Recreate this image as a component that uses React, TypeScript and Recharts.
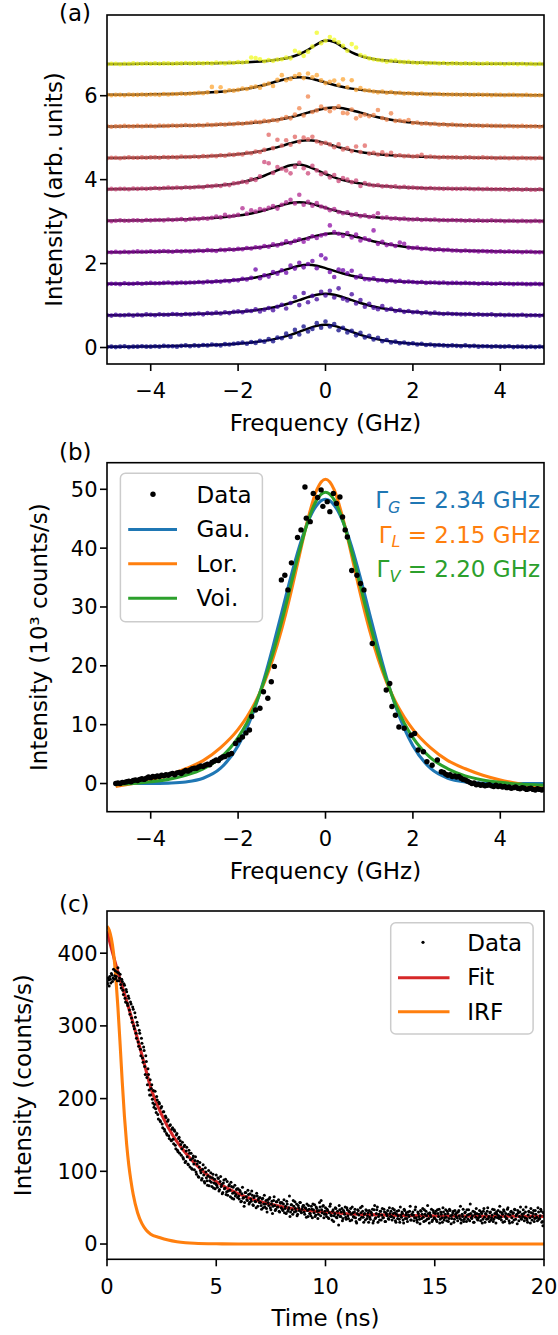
import React from "react";
import { ComposedChart, Scatter, Line, XAxis, YAxis } from "recharts";

const FONT = '"DejaVu Sans", "Liberation Sans", sans-serif';
const W = 558;
const TICK_FS = 21;
const LABEL_FS = 23;

// ---------- panel (a): stacked spectra ----------
const aStart = -5;
const aStep = 0.1;
const traceOffsets = [0, 0.75, 1.5, 2.25, 3, 3.75, 4.5, 5.25, 6, 6.75];
const traceColors = ["#0d0887", "#41049d", "#6a00a8", "#8f0da4", "#b12a90", "#cc4778", "#e16462", "#f2844b", "#fca636", "#f0f921"];

const trace0 = [0.01,0.02,0.01,0.02,0.03,0.01,0.02,0.02,0.03,0.02,0.02,0.03,0.02,0.04,0.03,0.03,0.02,0.04,0.05,0.03,
  0.05,0.04,0.06,0.05,0.07,0.06,0.05,0.08,0.07,0.09, 0.10,0.12,0.09,0.13,0.11,0.16,0.14,0.20,0.15,0.24,
  0.22,0.33,0.25,0.42,0.31,0.50,0.38,0.44,0.58,0.47, 0.62,0.50,0.56,0.41,0.47,0.36,0.40,0.29,0.35,0.24,
  0.28,0.19,0.23,0.15,0.18,0.12,0.14,0.10,0.12,0.09, 0.10,0.07,0.09,0.06,0.07,0.05,0.06,0.05,0.04,0.05,
  0.04,0.03,0.05,0.03,0.04,0.02,0.03,0.03,0.02,0.03,0.02,0.02,0.03,0.01,0.02,0.02,0.01,0.02,0.01,0.02,0.01];
const trace1 = [0.02,0.01,0.03,0.02,0.02,0.03,0.01,0.03,0.02,0.04,0.03,0.02,0.04,0.03,0.03,0.05,0.04,0.03,0.05,0.04,
  0.05,0.06,0.04,0.07,0.06,0.08,0.06,0.09,0.07,0.10, 0.11,0.09,0.13,0.12,0.16,0.11,0.15,0.19,0.14,0.22,
  0.27,0.18,0.31,0.45,0.26,0.55,0.33,0.48,0.40,0.58, 0.49,0.60,0.44,0.66,0.41,0.37,0.52,0.30,0.38,0.22,
  0.29,0.20,0.16,0.24,0.15,0.17,0.12,0.14,0.10,0.12, 0.09,0.10,0.07,0.09,0.06,0.08,0.06,0.05,0.06,0.05,
  0.05,0.04,0.04,0.05,0.03,0.04,0.03,0.03,0.04,0.02,0.03,0.02,0.03,0.02,0.02,0.03,0.01,0.02,0.02,0.01,0.02];
const trace2 = [0.01,0.02,0.02,0.01,0.03,0.02,0.02,0.03,0.02,0.03,0.04,0.03,0.03,0.04,0.05,0.03,0.04,0.05,0.04,0.05,
  0.05,0.06,0.05,0.07,0.06,0.08,0.07,0.09,0.08,0.11, 0.10,0.14,0.12,0.16,0.36,0.15,0.22,0.19,0.30,0.26,
  0.34,0.28,0.45,0.38,0.52,0.41,0.49,0.56,0.39,0.70, 0.62,0.30,0.18,0.36,0.34,0.27,0.33,0.17,0.21,0.13,
  0.12,0.15,0.10,0.11,0.08,0.10,0.07,0.09,0.06,0.07, 0.06,0.05,0.06,0.04,0.05,0.05,0.04,0.05,0.03,0.04,
  0.04,0.03,0.04,0.03,0.03,0.02,0.03,0.03,0.02,0.02,0.03,0.02,0.02,0.01,0.02,0.02,0.01,0.01,0.02,0.01,0.01];
const trace3 = [0.02,0.02,0.03,0.02,0.03,0.02,0.03,0.04,0.03,0.03,0.04,0.03,0.04,0.05,0.04,0.03,0.05,0.04,0.05,0.04,
  0.05,0.06,0.05,0.07,0.06,0.05,0.08,0.07,0.09,0.08, 0.10,0.09,0.12,0.11,0.14,0.13,0.17,0.15,0.21,0.18,
  0.22,0.28,0.24,0.29,0.33,0.27,0.34,0.40,0.36,0.42, 0.45,0.66,0.50,0.46,0.41,0.48,0.37,0.44,0.30,0.35,
  0.31,0.54,0.22,0.27,0.19,0.21,0.17,0.25,0.22,0.13, 0.12,0.13,0.10,0.11,0.09,0.08,0.09,0.07,0.08,0.06,
  0.06,0.05,0.06,0.05,0.05,0.04,0.05,0.04,0.04,0.03,0.04,0.03,0.04,0.03,0.03,0.02,0.03,0.03,0.02,0.02,0.02];
const trace4 = [0.02,0.01,0.02,0.03,0.02,0.02,0.03,0.03,0.02,0.04,0.03,0.04,0.04,0.03,0.05,0.04,0.05,0.06,0.04,0.06,
  0.07,0.06,0.08,0.07,0.09,0.12,0.10,0.16,0.12,0.14, 0.16,0.32,0.19,0.27,0.24,0.30,0.28,0.33,0.37,0.31,
  0.40,0.46,0.52,0.43,0.64,0.40,0.47,0.38,0.44,0.36, 0.33,0.27,0.30,0.23,0.20,0.22,0.16,0.18,0.13,0.15,
  0.11,0.13,0.20,0.09,0.10,0.07,0.08,0.06,0.07,0.05, 0.05,0.06,0.04,0.05,0.04,0.05,0.03,0.04,0.03,0.04,
  0.03,0.03,0.02,0.03,0.02,0.03,0.02,0.02,0.03,0.02,0.02,0.01,0.02,0.02,0.01,0.02,0.01,0.01,0.02,0.01,0.01];
const trace5 = [0.02,0.03,0.02,0.03,0.03,0.02,0.04,0.03,0.04,0.03,0.04,0.05,0.04,0.05,0.06,0.05,0.06,0.05,0.07,0.06,
  0.07,0.08,0.07,0.10,0.09,0.11,0.10,0.13,0.12,0.16, 0.17,0.20,0.19,0.26,0.24,0.33,0.67,0.64,0.41,0.55,
  0.51,0.47,0.40,0.56,0.65,0.52,0.40,0.58,0.47,0.38, 0.42,0.30,0.36,0.22,0.29,0.25,0.19,0.23,0.10,0.17,
  0.13,0.11,0.12,0.09,0.10,0.08,0.09,0.07,0.08,0.06, 0.06,0.05,0.05,0.04,0.05,0.04,0.04,0.03,0.04,0.03,
  0.03,0.03,0.04,0.03,0.02,0.03,0.02,0.03,0.02,0.02,0.02,0.02,0.01,0.02,0.02,0.01,0.02,0.01,0.01,0.02,0.01];
const trace6 = [0.01,0.02,0.02,0.01,0.02,0.03,0.02,0.02,0.03,0.02,0.03,0.03,0.02,0.04,0.03,0.04,0.03,0.05,0.04,0.04,
  0.05,0.04,0.06,0.05,0.07,0.06,0.08,0.07,0.10,0.09, 0.11,0.10,0.14,0.13,0.17,0.16,0.21,0.57,0.25,0.45,
  0.31,0.44,0.33,0.52,0.40,0.50,0.46,0.52,0.41,0.36, 0.38,0.34,0.27,0.34,0.22,0.25,0.18,0.29,0.16,0.31,
  0.12,0.14,0.10,0.15,0.09,0.14,0.07,0.08,0.06,0.07, 0.05,0.06,0.09,0.04,0.05,0.04,0.03,0.04,0.03,0.03,
  0.03,0.02,0.03,0.03,0.02,0.02,0.03,0.02,0.02,0.01,0.02,0.02,0.01,0.02,0.01,0.02,0.01,0.01,0.01,0.02,0.01];
const trace7 = [0.02,0.01,0.02,0.02,0.03,0.02,0.02,0.03,0.02,0.03,0.03,0.02,0.04,0.03,0.03,0.04,0.03,0.04,0.05,0.04,
  0.04,0.05,0.04,0.06,0.05,0.06,0.07,0.06,0.08,0.07, 0.09,0.08,0.10,0.11,0.13,0.12,0.15,0.14,0.17,0.16,
  0.20,0.24,0.21,0.30,0.45,0.28,0.73,0.36,0.40,0.49, 0.44,0.38,0.45,0.50,0.34,0.33,0.42,0.21,0.27,0.30,
  0.26,0.29,0.41,0.22,0.18,0.33,0.15,0.16,0.14,0.17, 0.10,0.11,0.08,0.09,0.07,0.08,0.06,0.07,0.05,0.06,
  0.05,0.05,0.04,0.05,0.04,0.04,0.03,0.04,0.03,0.03,0.03,0.02,0.03,0.02,0.02,0.03,0.02,0.02,0.02,0.01,0.02];
const trace8 = [0.02,0.01,0.02,0.02,0.01,0.03,0.02,0.02,0.03,0.02,0.03,0.03,0.02,0.04,0.03,0.04,0.04,0.05,0.04,0.05,
  0.06,0.07,0.06,0.08,0.21,0.09,0.20,0.10,0.13,0.12, 0.14,0.17,0.16,0.20,0.22,0.19,0.26,0.29,0.23,0.38,
  0.49,0.37,0.40,0.47,0.51,0.42,0.53,0.44,0.49,0.37, 0.30,0.33,0.36,0.26,0.39,0.20,0.37,0.14,0.18,0.13,
  0.12,0.10,0.08,0.10,0.07,0.09,0.06,0.07,0.05,0.06, 0.05,0.04,0.05,0.04,0.03,0.04,0.04,0.03,0.03,0.03,
  0.03,0.02,0.03,0.02,0.02,0.03,0.02,0.02,0.01,0.02,0.02,0.01,0.02,0.02,0.01,0.01,0.02,0.01,0.01,0.01,0.01];
const trace9 = [0.00,0.01,0.01,0.00,0.01,0.01,0.02,0.01,0.01,0.02,0.01,0.02,0.01,0.02,0.02,0.01,0.02,0.02,0.03,0.02,
  0.02,0.03,0.02,0.03,0.02,0.04,0.03,0.02,0.04,0.03, 0.05,0.04,0.06,0.16,0.15,0.12,0.07,0.10,0.08,0.11,
  0.12,0.16,0.14,0.32,0.28,0.20,0.30,0.42,0.75,0.50, 0.56,0.65,0.58,0.52,0.44,0.32,0.48,0.40,0.22,0.18,
  0.14,0.12,0.10,0.09,0.06,0.08,0.09,0.06,0.05,0.06, 0.04,0.03,0.04,0.02,0.03,0.03,0.02,0.03,0.01,0.02,
  0.02,0.01,0.02,0.01,0.02,0.01,0.01,0.02,0.01,0.01,0.01,0.00,0.01,0.01,0.00,0.01,0.00,0.01,0.00,0.01,0.00];

const fitGridA = [-5,-4.5,-4,-3.5,-3,-2.8,-2.6,-2.4,-2.2,-2,-1.8,-1.6,-1.4,-1.2,-1,-0.8,-0.6,-0.4,-0.2,0,
  0.2,0.4,0.6,0.8,1,1.2,1.4,1.6,1.8,2,2.2,2.4,2.6,2.8,3,3.5,4,4.5,5];
const fit0 = [0.017,0.021,0.026,0.034,0.045,0.051,0.058,0.067,0.077,0.091,0.108,0.130,0.158,0.194,0.242,0.302,0.374,0.451,0.515,0.54,
  0.515,0.451,0.374,0.302,0.242,0.194,0.158,0.130,0.108,0.091,0.077,0.067,0.058,0.051,0.045,0.034,0.026,0.021,0.017];
const fit1 = [0.018,0.023,0.028,0.036,0.048,0.055,0.062,0.072,0.083,0.098,0.115,0.138,0.167,0.204,0.251,0.310,0.379,0.450,0.508,0.53,
  0.508,0.450,0.379,0.310,0.251,0.204,0.167,0.138,0.115,0.098,0.083,0.072,0.062,0.055,0.048,0.036,0.028,0.023,0.018];
const fit2 = [0.017,0.022,0.028,0.037,0.050,0.058,0.067,0.079,0.094,0.113,0.137,0.169,0.210,0.263,0.325,0.392,0.448,0.47,0.448,0.392,
  0.325,0.263,0.210,0.169,0.137,0.113,0.094,0.079,0.067,0.058,0.050,0.044,0.039,0.035,0.031,0.024,0.019,0.015,0.013];
const fit3 = [0.020,0.024,0.030,0.038,0.050,0.056,0.063,0.071,0.082,0.094,0.109,0.128,0.151,0.179,0.215,0.257,0.307,0.362,0.415,0.455,
  0.47,0.455,0.415,0.362,0.307,0.257,0.215,0.179,0.151,0.128,0.109,0.094,0.082,0.071,0.063,0.047,0.036,0.029,0.024];
const fit4 = [0.021,0.026,0.033,0.045,0.062,0.072,0.085,0.100,0.120,0.145,0.177,0.218,0.269,0.329,0.391,0.441,0.46,0.441,0.391,0.329,
  0.269,0.218,0.177,0.145,0.120,0.100,0.085,0.072,0.062,0.054,0.048,0.042,0.037,0.033,0.030,0.023,0.019,0.015,0.013];
const fit5 = [0.022,0.028,0.037,0.050,0.071,0.082,0.097,0.116,0.141,0.173,0.216,0.271,0.343,0.430,0.522,0.592,0.608,0.561,0.477,0.385,
  0.305,0.241,0.193,0.156,0.128,0.106,0.090,0.076,0.066,0.057,0.050,0.044,0.039,0.035,0.031,0.025,0.020,0.016,0.014];
const fit6 = [0.016,0.020,0.026,0.034,0.047,0.054,0.063,0.074,0.088,0.106,0.128,0.158,0.197,0.246,0.304,0.367,0.419,0.44,0.419,0.367,
  0.304,0.246,0.197,0.158,0.128,0.106,0.088,0.074,0.063,0.054,0.047,0.041,0.036,0.032,0.029,0.022,0.018,0.014,0.012];
const fit7 = [0.017,0.020,0.025,0.032,0.042,0.047,0.053,0.061,0.070,0.081,0.094,0.111,0.132,0.159,0.193,0.235,0.287,0.346,0.405,0.452,
  0.47,0.452,0.405,0.346,0.287,0.235,0.193,0.159,0.132,0.111,0.094,0.081,0.070,0.061,0.053,0.040,0.030,0.024,0.020];
const fit8 = [0.020,0.025,0.032,0.043,0.060,0.069,0.081,0.096,0.115,0.139,0.169,0.209,0.257,0.315,0.374,0.422,0.44,0.422,0.374,0.315,
  0.257,0.209,0.169,0.139,0.115,0.096,0.081,0.069,0.060,0.052,0.045,0.040,0.036,0.032,0.029,0.022,0.018,0.015,0.012];
const fit9 = [0.007,0.008,0.010,0.013,0.018,0.021,0.024,0.027,0.032,0.038,0.046,0.057,0.072,0.093,0.123,0.168,0.238,0.342,0.472,0.565,
  0.531,0.406,0.285,0.199,0.143,0.106,0.081,0.064,0.051,0.042,0.035,0.030,0.025,0.022,0.019,0.014,0.011,0.009,0.007];

// ---------- panel (b): single line with three fits ----------
const bStep = 0.05;
const bLeftStart = -4.8;
const bLeftTail = [0.0,0.1,0.0,0.2,0.2,0.3,0.4,0.3,0.5,0.6,0.5,0.7,0.8,0.7,0.9,1.1,1.0,
  1.2,1.1,1.3,1.2,1.4,1.3,1.5,1.4,1.6,1.7,1.5,1.8,1.9,1.7,2.0,2.2,2.1,2.3,2.5,2.6,
  2.6,2.8,3.0,2.9,3.1,3.3,3.2,3.6,3.8,4.0,3.9,4.3,4.5];
const bCoreX = [-2.30,-2.22,-2.15,-2.06,-1.98,-1.90,-1.82,-1.74,-1.69,-1.60,-1.50,-1.42,-1.32,-1.24,-1.17,
  -1.01,-0.93,-0.86,-0.78,-0.64,-0.56,-0.47,-0.44,-0.35,-0.28,-0.18,-0.10,-0.06,0.04,0.10,0.18,0.25,0.33,0.39,
  0.45,0.50,0.60,0.72,0.80,0.88,1.07,1.39,1.47,1.52,1.60,1.68,1.80,1.96,2.04,2.12,2.24,2.32,2.44,2.56];
const bCoreY = [4.6,4.9,5.1,6.8,7.4,7.9,8.6,9.1,11.4,12.5,12.8,15.6,14.5,17.3,19.9,
  34.6,35.4,32.9,37.5,41.8,43.1,50.4,45.1,44.5,49.3,48.6,49.9,47.1,47.9,46.2,49.3,47.6,48.7,45.3,
  43.1,41.9,36.2,35.4,34.0,32.9,23.8,15.9,17.0,13.1,11.6,9.6,9.4,8.2,8.5,5.7,5.4,3.7,3.1,4.0];
const bRightStart = 2.65;
const bRightTail = [2.0,1.9,1.6,1.4,1.5,1.2,1.3,1.1,
  1.2,0.9,0.7,0.6,0.4,0.2,0.0,0.1,-0.2,-0.1,-0.3,-0.2,-0.4,-0.3,-0.2,-0.4,-0.5,-0.3,-0.5,-0.4,
  -0.6,-0.5,-0.7,-0.6,-0.8,-0.7,-0.6,-0.8,-0.9,-0.7,-0.8,-1.0,-0.9,-0.8,-1.0,-1.1,-0.9,-1.0,-1.1,-1.0];

const fitGridB = [-4.8,-4.4,-4,-3.6,-3.2,-2.8,-2.4,-2,-1.8,-1.6,-1.4,-1.2,-1,-0.8,-0.6,-0.4,-0.2,0,
  0.2,0.4,0.6,0.8,1,1.2,1.4,1.6,1.8,2,2.4,2.8,3.2,3.6,4,4.4,4.8,5];
const gauFit = [0,0,0,0.07,0.27,0.9,2.6,6.4,9.4,13.2,17.9,23.3,29.1,34.9,40.2,44.5,47.3,48.3,
  47.3,44.5,40.2,34.9,29.1,23.3,17.9,13.2,9.4,6.4,2.6,0.9,0.27,0.07,0,0,0,0];
const lorFit = [-0.5,0.0,0.6,1.4,2.5,3.9,6.1,9.2,11.3,13.9,17.2,21.3,26.3,32.2,38.7,45.0,49.9,51.7,
  49.9,45.0,38.7,32.2,26.3,21.3,17.2,13.9,11.3,9.2,6.1,3.9,2.5,1.4,0.6,0.0,-0.5,-0.7];
const voiFit = [-0.2,0.0,0.3,0.7,1.4,2.5,4.4,7.8,10.3,13.5,17.5,22.2,27.6,33.5,39.4,44.6,48.2,49.5,
  48.2,44.6,39.4,33.5,27.6,22.2,17.5,13.5,10.3,7.8,4.4,2.5,1.3,0.6,0.2,-0.1,-0.2,-0.3];

// ---------- panel (c): lifetime ----------
const cStep = 0.05;
const cData = [360,366,355,364,372,361,378,369,365,374,380,362,371,352,361,343,356,333,347,328,
  338,316,330,305,323,296,312,283,301,272,290,259,276,250,266,233,251,219,233,205,
  205,219,194,188,210,181,198,172,193,168,189,160,182,155,174,150,171,145,164,142,
  160,138,155,131,152,127,147,142,122,140,117,136,114,133,110,129,106,125,103,121,
  102,120,96,114,92,112,98,90,109,86,105,91,81,101,87,98,79,96,84,76,
  95,78,90,75,93,82,71,88,77,68,86,73,82,65,79,70,62,81,68,76,
  76,62,72,59,78,64,57,71,61,74,55,69,59,67,53,66,58,70,52,63,
  64,53,62,50,67,55,49,61,53,64,47,59,52,65,46,58,51,61,44,56,
  57,46,61,49,42,55,47,66,44,54,41,52,58,45,39,53,46,57,43,51,
  53,41,49,55,38,48,42,52,36,47,54,40,49,35,46,51,60,43,53,41,
  50,38,46,35,52,40,33,47,39,50,37,45,26,47,38,49,35,44,51,34,
  47,35,44,49,33,43,37,48,31,42,46,34,50,37,45,30,42,47,35,43,
  46,34,43,48,32,53,36,47,30,41,45,33,49,36,44,31,41,46,34,42,
  45,33,42,47,32,41,35,46,30,40,44,33,48,35,43,31,40,45,33,41,
  44,32,47,36,30,42,34,46,35,49,31,41,45,34,42,29,40,48,33,43,
  35,45,31,42,48,34,41,30,44,36,47,32,42,35,46,28,40,45,34,41,
  43,32,46,35,29,41,48,34,44,31,40,47,32,42,35,45,30,41,49,34,
  36,46,32,42,34,49,30,41,45,35,31,44,36,48,34,42,29,41,46,35,
  44,33,41,47,31,42,35,50,32,40,45,30,43,48,34,41,46,32,44,35,
  41,47,32,44,35,30,45,36,49,33,42,31,46,36,32,44,35,48,30,25,
  39];
// second read-out interleaved half a bin later
const cMid = [358,363,368,359,370,366,364,376,368,362,373,366,357,364,349,358,338,350,331,341,
  322,333,311,326,300,318,290,305,278,294,268,283,256,271,244,259,229,241,212,226,
  214,199,211,192,186,203,178,195,170,187,165,182,158,176,152,169,149,163,143,158,
  144,157,136,150,129,145,125,137,131,119,134,112,128,120,109,125,116,104,118,110,
  115,99,110,93,106,101,88,103,95,84,99,87,94,80,92,85,91,77,89,83,
  81,91,73,86,79,69,84,76,89,72,67,80,74,85,63,78,71,66,75,64,
  66,74,58,69,63,52,71,65,60,68,57,62,73,54,64,59,50,66,61,57,
  57,48,63,55,51,60,44,57,62,50,55,42,60,53,48,58,51,45,57,50,
  48,55,43,52,59,45,50,38,54,47,60,44,49,55,41,50,57,44,48,53,
  44,50,37,46,53,42,39,48,55,43,38,51,45,41,57,39,47,52,36,45,
  41,48,36,43,55,39,45,31,42,49,36,40,53,38,44,32,46,41,37,50,
  39,45,32,41,51,38,44,36,29,47,40,34,43,52,37,41,33,46,39,30,
  37,44,40,29,47,35,42,51,38,33,45,40,36,48,31,43,39,35,50,38,
  38,49,36,43,30,45,39,34,51,37,42,29,46,40,35,44,38,52,33,40,
  40,36,51,33,44,38,28,45,41,37,47,32,39,53,35,43,38,31,46,36,
  42,33,47,38,29,44,36,50,33,41,37,45,31,48,39,35,43,30,46,38,
  36,44,39,52,33,38,31,43,37,47,34,41,55,36,39,30,44,37,42,33,
  41,38,44,29,45,37,42,34,50,38,43,33,40,31,47,37,44,36,39,52,
  37,43,30,45,38,35,48,41,29,44,36,42,33,47,39,28,43,38,51,34,
  38,42,36,51,33,40,44,29,43,38,46,35,41,37,50,34,39,45,31,43];
const fitGridC = [0,0.25,0.5,0.75,1,1.25,1.5,1.75,2,2.25,2.5,3,3.5,4,4.5,5,5.5,6,7,8,9,10,11,12,14,16,18,20];
const fitC = [430,401,374,349,324,298,271,243,215,195,178,150,129,111.5,97.4,86,76.8,69.4,58.5,51.4,46.8,43.7,41.7,40.4,39,38.5,38.2,38.1];
const irfGrid = [0,0.1,0.2,0.3,0.4,0.5,0.6,0.7,0.8,0.9,1,1.1,1.2,1.4,1.6,1.8,2,2.4,2.8,3.2,3.6,4,5,6,8,20];
const irfC = [437,432,420,400,368,325,275,222,175,137,108,86,68,43,28,19,13.5,9,5.5,3.2,1.8,1.0,0.3,0.1,0,0];

// ---------- build point tables ----------
const pairs = (xs: number[], ys: number[]) => xs.map((x, i) => ({ x, y: ys[i] }));
const stepped = (start: number, step: number, ys: number[], shift = 0) =>
  ys.map((y, i) => ({ x: +(start + i * step).toFixed(3), y: y + shift }));

const traces = [trace0, trace1, trace2, trace3, trace4, trace5, trace6, trace7, trace8, trace9];
const fitsA = [fit0, fit1, fit2, fit3, fit4, fit5, fit6, fit7, fit8, fit9];
const aPoints = traces.map((t, i) => stepped(aStart, aStep, t, traceOffsets[i]));
const aFits = fitsA.map((f, i) => pairs(fitGridA, f.map((v) => v + traceOffsets[i])));

const bPoints = [
  ...stepped(bLeftStart, bStep, bLeftTail),
  ...pairs(bCoreX, bCoreY),
  ...stepped(bRightStart, bStep, bRightTail),
];
const gauPts = pairs(fitGridB, gauFit);
const lorPts = pairs(fitGridB, lorFit);
const voiPts = pairs(fitGridB, voiFit);

const cPoints = [...stepped(0, cStep, cData), ...stepped(0.025, cStep, cMid)];
const fitCPts = pairs(fitGridC, fitC);
const irfPts = pairs(irfGrid, irfC);

// ---------- styling helpers ----------
const tickStyle = { fontSize: TICK_FS, fill: "#000", fontFamily: FONT };
const tickLine = { stroke: "#000", strokeWidth: 1.6 };
const labelStyle = { fontSize: LABEL_FS, fill: "#000", fontFamily: FONT };
const minus = (v: number) => String(v).replace("-", "\u2212");

const dotShape = (color: string, r: number, opacity = 1) => (p: any) =>
  <circle cx={p.cx} cy={p.cy} r={r} fill={color} fillOpacity={opacity} />;

function axes(opts: {
  xDomain: [number, number]; xTicks: number[]; xHeight: number; xLabel: string; xOffset: number;
  yDomain: [number, number]; yTicks: number[]; yLabel: string; yOffset: number;
}) {
  return [
    <XAxis key="x" type="number" dataKey="x" domain={opts.xDomain} ticks={opts.xTicks} allowDataOverflow interval={0}
      tickFormatter={minus} tick={tickStyle} tickSize={7} tickMargin={12.5} tickLine={tickLine} axisLine={false}
      height={opts.xHeight}
      label={{ value: opts.xLabel, position: "insideBottom", offset: opts.xOffset, fill: "#000", style: labelStyle }} />,
    <YAxis key="y" type="number" dataKey="y" domain={opts.yDomain} ticks={opts.yTicks} allowDataOverflow interval={0}
      tickFormatter={minus} tick={tickStyle} tickSize={7} tickMargin={2.5} tickLine={tickLine} axisLine={false}
      width={107}
      label={{ value: opts.yLabel, angle: -90, position: "insideLeft", offset: opts.yOffset, fill: "#000",
        style: { ...labelStyle, textAnchor: "middle" } }} />,
  ];
}

function PanelA() {
  return (
    <div style={{ position: "absolute", left: 0, top: 0 }}>
      <ComposedChart width={W} height={445} margin={{ top: 15, right: 14, bottom: 0, left: 0 }}>
        {axes({ xDomain: [-5, 5], xTicks: [-4, -2, 0, 2, 4], xHeight: 81, xLabel: "Frequency (GHz)", xOffset: 14,
          yDomain: [-0.393, 7.923], yTicks: [0, 2, 4, 6], yLabel: "Intensity (arb. units)", yOffset: 54 })}
        {aPoints.map((pts, i) => (
          <Scatter key={"s" + i} data={pts} fill={traceColors[i]} shape={dotShape(traceColors[i], 2.3, 0.75)}
            isAnimationActive={false} />
        ))}
        {aFits.map((pts, i) => (
          <Line key={"f" + i} data={pts} dataKey="y" type="monotone" stroke="#000" strokeWidth={2.5}
            dot={false} activeDot={false} isAnimationActive={false} />
        ))}
      </ComposedChart>
    </div>
  );
}

function PanelB() {
  return (
    <div style={{ position: "absolute", left: 0, top: 445 }}>
      <ComposedChart width={W} height={445} margin={{ top: 17.7, right: 14, bottom: 0, left: 0 }}>
        {axes({ xDomain: [-5, 5], xTicks: [-4, -2, 0, 2, 4], xHeight: 78.3, xLabel: "Frequency (GHz)", xOffset: 11.3,
          yDomain: [-4.79, 54.52], yTicks: [0, 10, 20, 30, 40, 50], yLabel: "Intensity (10\u00b3 counts/s)", yOffset: 38.5 })}
        <Scatter data={bPoints} fill="#000" shape={dotShape("#000", 2.7)} isAnimationActive={false} />
        <Line data={gauPts} dataKey="y" type="monotone" stroke="#1f77b4" strokeWidth={3.1} dot={false} activeDot={false} isAnimationActive={false} />
        <Line data={lorPts} dataKey="y" type="monotone" stroke="#ff7f0e" strokeWidth={3.1} dot={false} activeDot={false} isAnimationActive={false} />
        <Line data={voiPts} dataKey="y" type="monotone" stroke="#2ca02c" strokeWidth={3.1} dot={false} activeDot={false} isAnimationActive={false} />
      </ComposedChart>
    </div>
  );
}

function PanelC() {
  return (
    <div style={{ position: "absolute", left: 0, top: 890 }}>
      <ComposedChart width={W} height={445} margin={{ top: 21, right: 14, bottom: 0, left: 0 }}>
        {axes({ xDomain: [0, 20], xTicks: [0, 5, 10, 15, 20], xHeight: 75.7, xLabel: "Time (ns)", xOffset: 9.5,
          yDomain: [-21, 458], yTicks: [0, 100, 200, 300, 400], yLabel: "Intensity (counts/s)", yOffset: 23 })}
        <Scatter data={cPoints} fill="#000" shape={dotShape("#000", 1.5)} isAnimationActive={false} />
        <Line data={fitCPts} dataKey="y" type="monotone" stroke="#d62728" strokeWidth={3.1} dot={false} activeDot={false} isAnimationActive={false} />
        <Line data={irfPts} dataKey="y" type="monotone" stroke="#ff7f0e" strokeWidth={3.1} dot={false} activeDot={false} isAnimationActive={false} />
      </ComposedChart>
    </div>
  );
}

const frames = [
  { x: 107, y: 15, w: 437, h: 349 },
  { x: 107, y: 462.7, w: 437, h: 349 },
  { x: 107, y: 911, w: 437, h: 348.3 },
];

const widths = [
  { sub: "G", text: " = 2.34 GHz", color: "#1f77b4", y: 508.3 },
  { sub: "L", text: " = 2.15 GHz", color: "#ff7f0e", y: 542.7 },
  { sub: "V", text: " = 2.20 GHz", color: "#2ca02c", y: 577.3 },
];

function Overlay() {
  return (
    <svg width={W} height={1335} style={{ position: "absolute", left: 0, top: 0, pointerEvents: "none" }}
      fontFamily={FONT} fontSize={LABEL_FS}>
      {frames.map((f, i) => (
        <rect key={i} x={f.x} y={f.y} width={f.w} height={f.h} fill="none" stroke="#000" strokeWidth={1.6} />
      ))}
      <text x={59} y={20.6}>(a)</text>
      <text x={59} y={460.3}>(b)</text>
      <text x={59} y={912.3}>(c)</text>

      {widths.map((g) => (
        <text key={g.sub} x={540} y={g.y} textAnchor="end" fill={g.color}>
          Γ<tspan fontStyle="italic" fontSize={16} dy={4.5}>{g.sub}</tspan><tspan dy={-4.5}>{g.text}</tspan>
        </text>
      ))}

      {/* legend (b) */}
      <rect x={120.4} y={473.3} width={142} height={148.4} rx={5} fill="#fff" fillOpacity={0.8} stroke="#cccccc" strokeWidth={1.5} />
      <circle cx={153} cy={494.3} r={2.7} fill="#000" />
      <line x1={128.2} x2={177} y1={529.5} y2={529.5} stroke="#1f77b4" strokeWidth={3.1} />
      <line x1={128.2} x2={177} y1={563.8} y2={563.8} stroke="#ff7f0e" strokeWidth={3.1} />
      <line x1={128.2} x2={177} y1={598.2} y2={598.2} stroke="#2ca02c" strokeWidth={3.1} />
      <text x={196.6} y={503.3}>Data</text>
      <text x={196.6} y={537.3}>Gau.</text>
      <text x={196.6} y={571.7}>Lor.</text>
      <text x={196.6} y={605.7}>Voi.</text>

      {/* legend (c) */}
      <rect x={390.7} y={922.7} width={142.4} height={111.3} rx={5} fill="#fff" fillOpacity={0.8} stroke="#cccccc" strokeWidth={1.5} />
      <circle cx={423} cy={942.3} r={1.6} fill="#000" />
      <line x1={398} x2={449.5} y1={977.7} y2={977.7} stroke="#d62728" strokeWidth={3.1} />
      <line x1={398} x2={449.5} y1={1011.7} y2={1011.7} stroke="#ff7f0e" strokeWidth={3.1} />
      <text x={467.2} y={950.5}>Data</text>
      <text x={467.2} y={985.3}>Fit</text>
      <text x={467.2} y={1019.7}>IRF</text>
    </svg>
  );
}

export default function App() {
  return (
    <div style={{ position: "absolute", left: 0, top: 0, width: W, height: 1335, background: "#fff", fontFamily: FONT }}>
      <PanelA />
      <PanelB />
      <PanelC />
      <Overlay />
    </div>
  );
}
